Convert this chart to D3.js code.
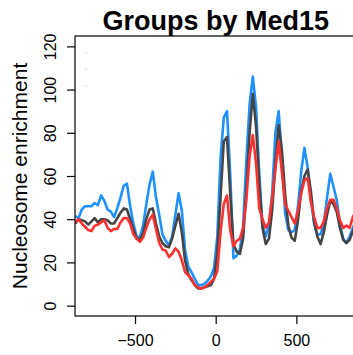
<!DOCTYPE html>
<html>
<head>
<meta charset="utf-8">
<script src="https://cdn.jsdelivr.net/npm/d3@7"></script>
<style>
	body { margin: 0; background: #ffffff; }
	text { font-family: "Liberation Sans", Arial, Helvetica, sans-serif; }
</style>
</head>
<body>
<div id="svg_chart"></div>
<script>
// Position relative to the TSS (bp), shared by all three groups
var positions = [-870, -850, -830, -810, -790, -770, -750, -730, -710, -690,
	-670, -650, -630, -610, -590, -570, -550, -530, -510, -490,
	-470, -450, -430, -410, -390, -370, -350, -330, -310, -290,
	-270, -250, -230, -210, -190, -170, -150, -130, -110, -90,
	-70, -50, -30, -10, 10, 30, 50, 70, 90, 110,
	130, 150, 170, 190, 210, 230, 250, 270, 290, 310,
	330, 350, 370, 390, 410, 430, 450, 470, 490, 510,
	530, 550, 570, 590, 610, 630, 650, 670, 690, 710,
	730, 750, 770, 790, 810, 830, 850, 870];

// Nucleosome enrichment, blue group
var blueValues = [41.5, 40.5, 44.5, 46, 46, 46, 47.5, 46.5, 51, 48.5,
	44.5, 43.5, 41, 45, 50, 55.5, 56.5, 46, 38, 32,
	31.5, 37, 47, 56, 62, 50, 42, 33, 30, 28,
	32, 42, 52, 44, 26, 18, 15.5, 12.5, 9.5, 9.5,
	10, 11.5, 13.5, 17.5, 32, 68, 87, 90, 61, 22,
	23, 26, 37, 67, 93, 106, 92, 61, 37, 32,
	37, 52, 80, 90, 70, 43, 35, 34, 35, 46,
	62, 73, 64, 49, 38, 33, 33, 38, 50, 61,
	55, 49, 38, 31, 29, 32, 36, 40];

// Nucleosome enrichment, gray group
var grayValues = [38, 40, 39.5, 39, 37.5, 39, 40.5, 38.5, 40, 40,
	39.5, 38, 38, 40.5, 43, 45, 44.5, 40, 35.5, 31,
	30.5, 33.5, 40, 44.5, 45, 38, 32, 29, 27.5, 27,
	31, 37, 42.5, 34, 21, 14.5, 11.8, 9.5, 8, 8,
	8.5, 9, 9.5, 12.5, 25, 50, 76, 78, 52, 28.5,
	25, 24, 31, 53, 80, 98, 83, 57, 36, 28.5,
	31, 44, 66, 83.5, 72, 52, 37, 31.5, 30, 39.5,
	53, 60, 63, 53, 39, 32, 28.5, 34, 42, 48.5,
	47, 43.5, 36, 30.5, 29, 30.5, 34.5, 38];

// Nucleosome enrichment, red group
var redValues = [38.5, 40, 38, 36.5, 35, 34.5, 37, 37.5, 38.5, 39.5,
	36, 34.5, 35.5, 35.5, 38.5, 40.5, 40.5, 38, 33, 31,
	29.5, 31.5, 36, 40, 42, 35.5, 29, 26, 25.5, 22.5,
	24, 26.5, 25, 21, 15.5, 14, 12.5, 9.5, 8.5, 7.8,
	8.5, 9.5, 11, 12.5, 16, 34, 47, 51, 35, 27.5,
	30, 31, 36, 49, 69, 79, 66, 45, 40, 36,
	38.5, 50, 63, 76, 62, 47, 44, 41, 38, 44,
	52, 58, 59, 48, 41, 36, 36, 39, 45, 49,
	49, 45, 39.5, 36, 37, 36, 41, 44];

// tick labels
var xTicks = [-500, 0, 500];
var yTicks = [0, 20, 40, 60, 80, 100, 120];

// series, drawn in this order (red ends on top)
var seriesNames = ["blue", "gray", "red"];
var seriesColors = ["#1e90ff", "#454545", "#ff3030"];
var seriesData = [blueValues, grayValues, redValues];

var size = { width: 353, height: 355 };

// plot region in pixels
var plot = { left: 75, right: 356.4, top: 36, bottom: 316 };

var xScale = d3.scaleLinear()
	.domain([-872, 872])
	.range([plot.left, plot.right]);

var yScale = d3.scaleLinear()
	.domain([-4.8, 124.8])
	.range([plot.bottom, plot.top]);

var svg = d3.select("#svg_chart").append("svg")
	.attr("width", size.width)
	.attr("height", size.height)
	.style("display", "block")
	.style("background", "#ffffff");

svg.append("clipPath")
	.attr("id", "plot_clip")
	.append("rect")
	.attr("x", plot.left)
	.attr("y", plot.top)
	.attr("width", plot.right - plot.left)
	.attr("height", plot.bottom - plot.top);

// faint legend remnants near the top left corner
var legend = svg.append("g");
seriesNames.forEach(function(name, i) {
	legend.append("rect")
		.attr("x", 85.5)
		.attr("y", 52 + i * 16.7)
		.attr("width", 1)
		.attr("height", 1.5)
		.attr("fill", seriesColors[i])
		.attr("opacity", 0.35);
});

// lines
var line = d3.line()
	.x(function(d) { return xScale(d[0]); })
	.y(function(d) { return yScale(d[1]); });

var lines = svg.append("g").attr("clip-path", "url(#plot_clip)");
seriesData.forEach(function(values, i) {
	var points = positions.map(function(p, j) { return [p, values[j]]; });
	lines.append("path")
		.datum(points)
		.attr("fill", "none")
		.attr("stroke", seriesColors[i])
		.attr("stroke-width", 2.6)
		.attr("stroke-linejoin", "round")
		.attr("d", line);
});

// box
svg.append("rect")
	.attr("x", plot.left)
	.attr("y", plot.top)
	.attr("width", plot.right - plot.left)
	.attr("height", plot.bottom - plot.top)
	.attr("fill", "none")
	.attr("stroke", "#000")
	.attr("stroke-width", 1.2);

// x axis
var x_axis = d3.axisBottom(xScale)
	.tickValues(xTicks)
	.tickSize(8)
	.tickPadding(6)
	.tickFormat(function(d) { return d < 0 ? "\u2212" + Math.abs(d) : d; });

var xg = svg.append("g")
	.attr("transform", "translate(0," + plot.bottom + ")")
	.call(x_axis);
xg.select(".domain").remove();
xg.selectAll("line").attr("stroke", "#000").attr("stroke-width", 1.2);
xg.selectAll("text")
	.attr("y", 29.5)
	.attr("dy", null)
	.attr("fill", "#000")
	.style("font-size", "16px");

// y axis
var y_axis = d3.axisLeft(yScale)
	.tickValues(yTicks)
	.tickSize(8)
	.tickFormat(d3.format("d"));

var yg = svg.append("g")
	.attr("transform", "translate(" + plot.left + ",0)")
	.call(y_axis);
yg.select(".domain").remove();
yg.selectAll("line").attr("stroke", "#000").attr("stroke-width", 1.2);
yg.selectAll("text")
	.attr("x", null)
	.attr("dy", null)
	.attr("text-anchor", "middle")
	.attr("transform", "translate(-19.5,0) rotate(-90)")
	.attr("fill", "#000")
	.style("font-size", "16px");

// y axis label
svg.append("text")
	.attr("x", -(plot.top + plot.bottom) / 2)
	.attr("y", 27)
	.attr("text-anchor", "middle")
	.attr("transform", "rotate(-90)")
	.style("font-size", "21px")
	.text("Nucleosome enrichment");

// title
svg.append("text")
	.attr("x", (plot.left + plot.right) / 2)
	.attr("y", 29.5)
	.attr("text-anchor", "middle")
	.style("font-size", "27px")
	.style("font-weight", "bold")
	.text("Groups by Med15");
</script>
</body>
</html>
